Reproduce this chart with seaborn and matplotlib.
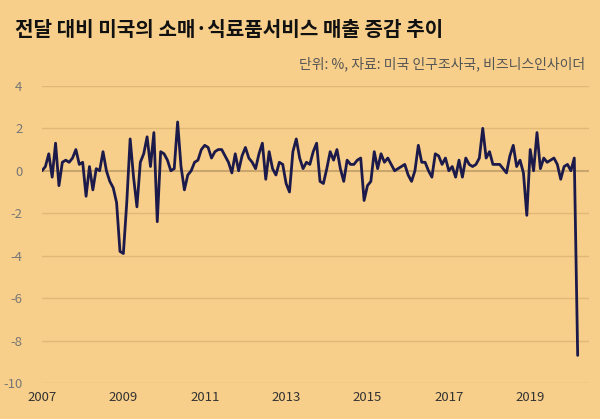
import numpy as np
import pandas as pd
import matplotlib
matplotlib.use("Agg")
import matplotlib.pyplot as plt
import seaborn as sns

values = [
 0.0, 0.2, 0.8, -0.3, 1.3, -0.7, 0.4, 0.5, 0.4, 0.6, 1.0, 0.3,
 0.4, -1.2, 0.2, -0.9, 0.1, 0.0, 0.9, 0.0, -0.5, -0.8, -1.5, -3.8,
 -3.9, -1.5, 1.5, -0.3, -1.7, 0.4, 0.8, 1.6, 0.2, 1.8, -2.4, 0.9,
 0.8, 0.5, 0.0, 0.1, 2.3, 0.2, -0.9, -0.2, 0.0, 0.4, 0.5, 1.0,
 1.2, 1.1, 0.6, 0.9, 1.0, 1.0, 0.7, 0.4, -0.1, 0.8, 0.0, 0.7,
 1.1, 0.6, 0.4, 0.1, 0.8, 1.3, -0.4, 0.9, 0.1, -0.2, 0.4, 0.3,
 -0.6, -1.0, 0.9, 1.5, 0.6, 0.1, 0.4, 0.3, 0.9, 1.3, -0.5, -0.6,
 0.1, 0.9, 0.5, 1.0, 0.1, -0.5, 0.5, 0.3, 0.3, 0.5, 0.6, -1.4,
 -0.7, -0.5, 0.9, 0.1, 0.8, 0.4, 0.6, 0.3, 0.0, 0.1, 0.2, 0.3,
 -0.2, -0.5, 0.0, 1.2, 0.4, 0.4, 0.0, -0.3, 0.8, 0.7, 0.3, 0.6,
 0.0, 0.2, -0.3, 0.5, -0.3, 0.6, 0.3, 0.2, 0.3, 0.6, 2.0, 0.6,
 0.9, 0.3, 0.3, 0.3, 0.1, -0.1, 0.7, 1.2, 0.2, 0.5, -0.1, -2.1,
 1.0, 0.0, 1.8, 0.1, 0.6, 0.4, 0.5, 0.6, 0.3, -0.4, 0.2, 0.3,
 0.0, 0.6, -8.7,
]
start_year = 2007
year_ticks = [2007, 2009, 2011, 2013, 2015, 2017, 2019]
y_ticks = [-10, -8, -6, -4, -2, 0, 2, 4]
title = "전달 대비 미국의 소매·식료품서비스 매출 증감 추이"
subtitle = "단위: %, 자료: 미국 인구조사국, 비즈니스인사이더"

df = pd.DataFrame({"t": start_year + np.arange(len(values)) / 12.0, "v": values})

bg = "#F7CF8A"
sns.set_style("white")
plt.rcParams['font.family'] = ['Noto Sans CJK KR', 'DejaVu Sans']
fig = plt.figure(figsize=(6, 4.19), dpi=100, facecolor=bg)
ax = fig.add_axes([0.07, 0.086, 0.912, 0.709], facecolor=bg)
for y in y_ticks:
    ax.axhline(y, color="#E0B979" if y != 0 else "#C9A56E", lw=1.0 if y != 0 else 1.5, zorder=0)
sns.lineplot(data=df, x="t", y="v", ax=ax, color="#1C1A4B", lw=2.0)
ax.set_xlim(2007, 2020.45)
ax.set_ylim(-10, 4)
ax.set_xticks(year_ticks)
ax.set_xticklabels([str(y) for y in year_ticks], fontsize=9.5, color="#333333")
ax.set_yticks(y_ticks)
ax.set_yticklabels([str(y) for y in y_ticks], fontsize=9.5, color="#777777")
ax.tick_params(axis="both", length=0, pad=6)
ax.tick_params(axis="y", pad=14)
for s in ax.spines.values():
    s.set_visible(False)
ax.set_xlabel("")
ax.set_ylabel("")
fig.text(0.025, 0.955, title, fontsize=14.5, fontweight="bold", color="#111111", va="top")
fig.text(0.975, 0.865, subtitle, fontsize=10, color="#555555", ha="right", va="top")
fig.savefig("out.png", dpi=100, facecolor=bg)
